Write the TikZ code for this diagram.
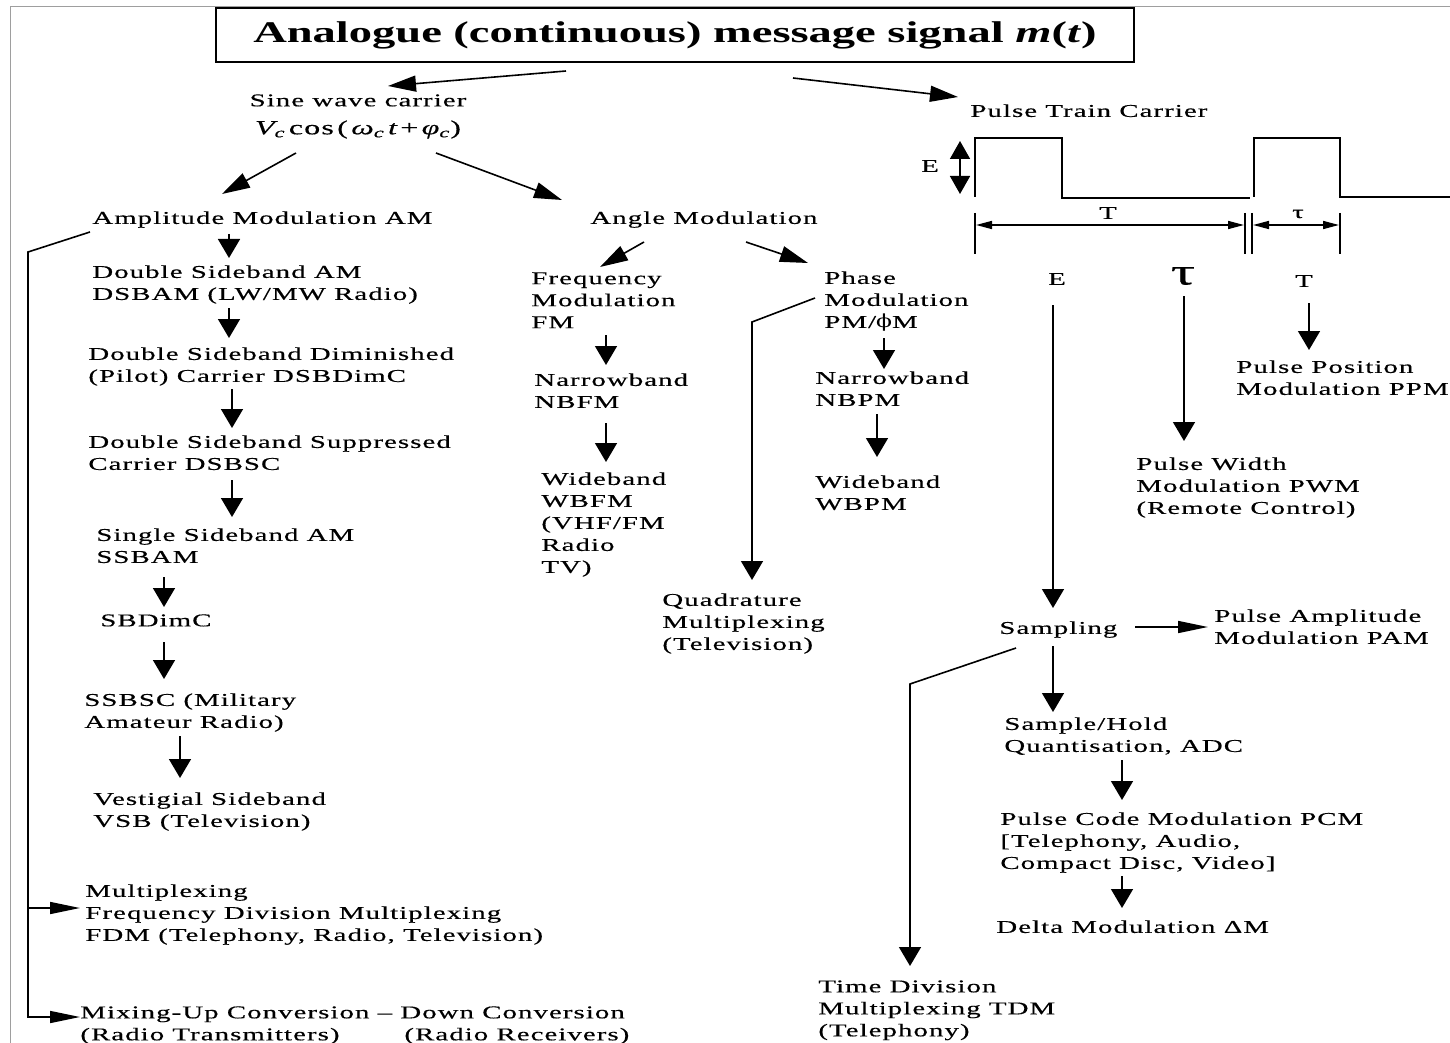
\documentclass[tikz,border=0pt]{standalone}
\usepackage{fontspec}
\setmainfont{Liberation Serif}[FakeStretch=1.6,LetterSpace=6,FakeBold=0.4]
\newfontfamily\titlefont{Liberation Serif}[FakeStretch=1.55]
\newfontfamily\phifont{DejaVu Serif}[FakeStretch=1.3]
\usetikzlibrary{arrows.meta,calc}
\begin{document}
\begin{tikzpicture}[x=0.5pt,y=-0.5pt,
  lbl/.style={anchor=north west,inner sep=0pt,align=left,font=\fontsize{9pt}{11pt}\selectfont},
  clbl/.style={anchor=center,inner sep=0pt,font=\fontsize{9pt}{11pt}\selectfont},
  conn/.style={line width=0.8pt},
  av/.style={conn,-{Triangle[length=9.5pt,width=11pt]}},
  ah/.style={conn,-{Triangle[length=15pt,width=6pt]}},
  ad/.style={conn,-{Triangle[length=14pt,width=8pt]}},
  dimarr/.style={conn,{Triangle[length=8pt,width=4pt]}-{Triangle[length=8pt,width=4pt]}},
  frame/.style={black!38,line width=0.5pt}]
\useasboundingbox (0,0) rectangle (1450,1043);
\draw[frame] (10,1043) -- (10,7) -- (1450,7);

% title
\node[draw,line width=1pt,minimum width=459pt,minimum height=27pt,inner sep=0pt,
  font=\titlefont\bfseries\fontsize{15pt}{15pt}\selectfont] (title) at (675,35)
  {Analogue (continuous) message signal \textit{m}(\textit{t})};

% carriers
\node[anchor=north,inner sep=0pt,align=center,font=\fontsize{9pt}{11pt}\selectfont] (sine) at (358,94)
  {Sine wave carrier\\[3pt]
   {\fontsize{10pt}{11pt}\selectfont{\itshape V}\textsubscript{\itshape c}\,cos\,(\,{\itshape ω}\textsubscript{\itshape c}\,{\itshape t}\,+\,{\itshape φ}\textsubscript{\itshape c})}};
\node[lbl] (pulse) at (970,104) {Pulse Train Carrier};

% amplitude modulation column
\node[lbl] (am) at (92,211) {Amplitude Modulation AM};
\node[lbl] (dsbam) at (92,265) {Double Sideband AM\\DSBAM (LW/MW Radio)};
\node[lbl] (dimc) at (88,347) {Double Sideband Diminished\\(Pilot) Carrier DSBDimC};
\node[lbl] (dsbsc) at (88,435) {Double Sideband Suppressed\\Carrier DSBSC};
\node[lbl] (ssb) at (96,528) {Single Sideband AM\\SSBAM};
\node[lbl] (sbdimc) at (100,614) {SBDimC};
\node[lbl] (ssbsc) at (84,693) {SSBSC (Military\\Amateur Radio)};
\node[lbl] (vsb) at (93,792) {Vestigial Sideband\\VSB (Television)};
\node[lbl] (fdm) at (85,884) {Multiplexing\\Frequency Division Multiplexing\\FDM (Telephony, Radio, Television)};
\node[lbl] (mix) at (80,1006) {Mixing-Up Conversion – Down Conversion\\\makebox[162pt][l]{(Radio Transmitters)}(Radio Receivers)};

% angle modulation column
\node[lbl] (angle) at (590,211) {Angle Modulation};
\node[lbl] (fm) at (531,272) {Frequency\\Modulation\\FM};
\node[lbl] (nbfm) at (534,373) {Narrowband\\NBFM};
\node[lbl] (wbfm) at (541,472) {Wideband\\WBFM\\(VHF/FM\\Radio\\TV)};
\node[lbl] (pm) at (824,271) {Phase\\Modulation\\PM/{\phifont ϕ}M};
\node[lbl] (nbpm) at (815,371) {Narrowband\\NBPM};
\node[lbl] (wbpm) at (815,475) {Wideband\\WBPM};
\node[lbl] (quad) at (662,593) {Quadrature\\Multiplexing\\(Television)};

% pulse section
\node[clbl] (eL) at (1057,279) {E};
\node[clbl,font=\fontsize{19pt}{19pt}\selectfont] (tauL) at (1183,276) {τ};
\node[clbl] (tL) at (1304,281) {T};
\node[lbl] (ppm) at (1236,360) {Pulse Position\\Modulation PPM};
\node[lbl] (pwm) at (1136,457) {Pulse Width\\Modulation PWM\\(Remote Control)};
\node[lbl] (sampling) at (999,621) {Sampling};
\node[lbl] (pam) at (1214,609) {Pulse Amplitude\\Modulation PAM};
\node[lbl] (sh) at (1004,717) {Sample/Hold\\Quantisation, ADC};
\node[lbl] (pcm) at (1000,812) {Pulse Code Modulation PCM\\{[}Telephony, Audio,\\Compact Disc, Video{]}};
\node[lbl] (dm) at (996,920) {Delta Modulation ΔM};
\node[lbl] (tdm) at (818,980) {Time Division\\Multiplexing TDM\\(Telephony)};

% pulse train waveform
\draw[conn] (975,197) -- (975,138) -- (1062,138) -- (1062,198) -- (1250,198);
\draw[conn] (1254,197) -- (1254,138) -- (1340,138) -- (1340,197) -- (1450,197);
\node[clbl] (eW) at (930,166) {E};
\draw[conn,{Triangle[length=9pt,width=10pt]}-{Triangle[length=9pt,width=10pt]}] (960,141) -- (960,194);
\draw[conn] (975,213) -- (975,254);
\draw[conn] (1245,213) -- (1245,254);
\draw[conn] (1252,213) -- (1252,254);
\draw[conn] (1340,213) -- (1340,254);
\draw[dimarr] (976,225) -- (1244,225);
\draw[dimarr] (1253,225) -- (1339,225);
\node[clbl] (tDim) at (1108,213) {T};
\node[clbl] (tauDim) at (1298,214) {τ};

% connectors: top level
\draw[ad] ($(title.south)+(-109,8)$) -- ($(sine.north)+(30,-8)$);
\draw[ad] ($(title.south)+(118,15)$) -- ($(pulse.north west)+(-12,-7)$);
\draw[ad] ($(sine.north)+(-62,59)$) -- ($(am.north west)+(130,-17)$);
\draw[ad] ($(sine.north)+(78,59)$) -- ($(angle.north west)+(-28,-11)$);

% AM chain
\draw[av] ($(am.north west)+(137,23)$) -- ($(dsbam.north west)+(137,-7)$);
\draw[av] ($(dsbam.north west)+(137,43)$) -- ($(dimc.north west)+(141,-9)$);
\draw[av] ($(dimc.north west)+(144,42)$) -- ($(dsbsc.north west)+(144,-7)$);
\draw[av] ($(dsbsc.north west)+(144,45)$) -- ($(ssb.north west)+(136,-11)$);
\draw[av] ($(ssb.north west)+(68,49)$) -- ($(sbdimc.north west)+(64,-7)$);
\draw[av] ($(sbdimc.north west)+(64,28)$) -- ($(ssbsc.north west)+(80,-14)$);
\draw[av] ($(ssbsc.north west)+(96,43)$) -- ($(vsb.north west)+(87,-14)$);

% AM branch to multiplexing and mixing
\coordinate (amc) at (28,252);
\coordinate (fdmin) at ($(fdm.north west)+(-5,24)$);
\coordinate (mixin) at ($(mix.north west)+(0,11)$);
\draw[ah] ($(am.north west)+(-2,21)$) -- (amc) |- (mixin);
\draw[ah] (amc |- fdmin) -- (fdmin);

% angle chain
\draw[ad] ($(angle.north west)+(54,31)$) -- ($(fm.north west)+(69,-5)$);
\draw[ad] ($(angle.north west)+(156,31)$) -- ($(pm.north west)+(-16,-8)$);
\draw[av] ($(fm.north west)+(75,63)$) -- ($(nbfm.north west)+(72,-8)$);
\draw[av] ($(nbfm.north west)+(72,50)$) -- ($(wbfm.north west)+(65,-10)$);
\draw[av] ($(pm.north west)+(60,67)$) -- ($(nbpm.north west)+(69,-2)$);
\draw[av] ($(nbpm.north west)+(62,43)$) -- ($(wbpm.north west)+(62,-18)$);
\coordinate (qc) at (752,322);
\draw[av] ($(pm.north west)+(-9,27)$) -- (qc) -- ($(quad.north west)+(90,-13)$);

% pulse chain
\draw[av] ($(eL.center)+(-4,26)$) -- ($(sampling.north west)+(54,-13)$);
\draw[av] ($(tauL.center)+(1,20)$) -- ($(pwm.north west)+(48,-16)$);
\draw[av] ($(tL.center)+(5,22)$) -- ($(ppm.north west)+(73,-10)$);
\draw[ah] ($(sampling.north west)+(136,6)$) -- ($(pam.north west)+(-6,18)$);
\draw[av] ($(sampling.north west)+(54,25)$) -- ($(sh.north west)+(49,-5)$);
\coordinate (tc) at (910,684);
\draw[av] ($(sampling.north west)+(17,27)$) -- (tc) -- ($(tdm.north west)+(92,-14)$);
\draw[av] ($(sh.north west)+(118,43)$) -- ($(pcm.north west)+(122,-12)$);
\draw[av] ($(pcm.north west)+(122,64)$) -- ($(dm.north west)+(126,-12)$);
\end{tikzpicture}
\end{document}
